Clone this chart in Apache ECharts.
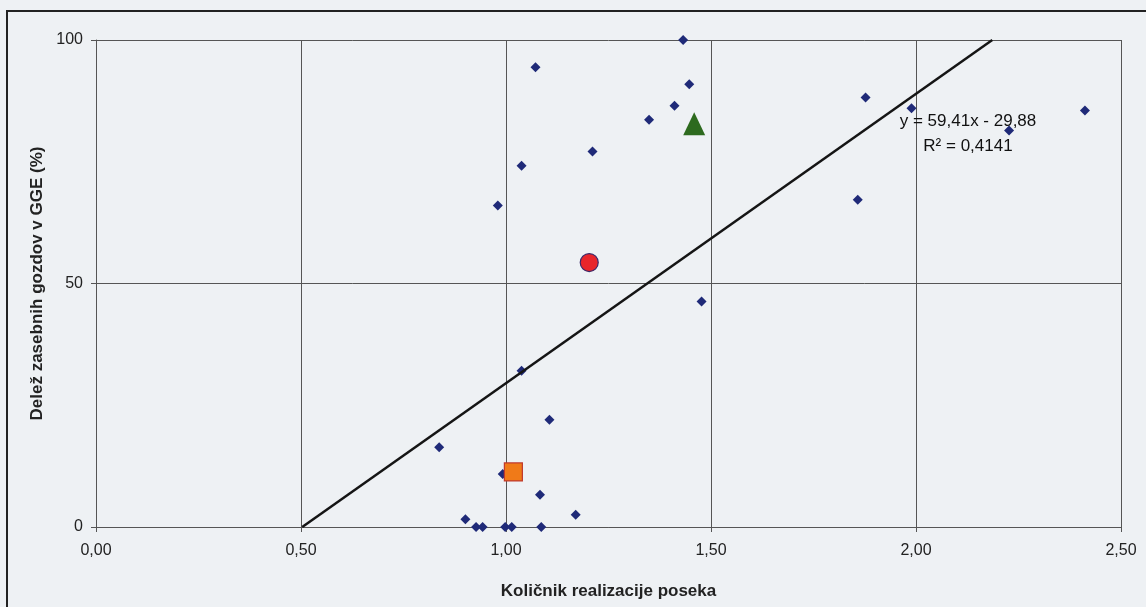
<!DOCTYPE html>
<html>
<head>
<meta charset="utf-8">
<script src="https://cdn.jsdelivr.net/npm/echarts@6/dist/echarts.min.js"></script>
<style>
  html, body { margin: 0; padding: 0; background: #eef1f4; }
  #chart { width: 1146px; height: 607px; }
</style>
</head>
<body>
<div id="chart"></div>
<script>
// ---- data ----
const diamondX = [1.432, 1.072, 1.447, 1.411, 1.349, 1.211, 1.038, 1.877, 1.989, 2.412, 2.227, 1.858, 0.980,
                  1.477, 1.038, 1.106, 0.837, 0.992, 1.083, 1.170, 0.901, 0.927, 0.943, 0.998, 1.014, 1.086];
const diamondY = [100.0, 94.4, 90.9, 86.5, 83.6, 77.1, 74.2, 88.2, 86.0, 85.5, 81.4, 67.2, 66.0,
                  46.3, 32.1, 22.0, 16.4, 10.9, 6.6, 2.5, 1.6, 0, 0, 0, 0, 0];
const redCircle = [1.203, 54.3];
const greenTriangle = [1.459, 82.8];
const orangeSquare = [1.018, 11.3];
const trendX = [0.503, 2.186];
const trendY = [0, 100];
const equationText = 'y = 59,41x - 29,88';
const r2Text = 'R² = 0,4141';
const xTitle = 'Količnik realizacije poseka';
const yTitle = 'Delež zasebnih gozdov v GGE (%)';

const diamonds = diamondX.map((x, i) => [x, diamondY[i]]);
const trend = trendX.map((x, i) => [x, trendY[i]]);

const chart = echarts.init(document.getElementById('chart'));
const font = 'Arial, "Liberation Sans", Helvetica, sans-serif';

chart.setOption({
  backgroundColor: '#eef1f4',
  animation: false,
  grid: { left: 96, right: 25, top: 40, bottom: 80, containLabel: false },
  xAxis: {
    type: 'value', min: 0, max: 2.5, interval: 0.5,
    name: xTitle, nameLocation: 'middle', nameGap: 56,
    nameTextStyle: { fontFamily: font, fontSize: 17, fontWeight: 'bold', color: '#222' },
    axisLine: { show: true, lineStyle: { color: '#555', width: 1 } },
    axisTick: { show: true, length: 5, lineStyle: { color: '#555' } },
    axisLabel: { margin: 16, fontFamily: font, fontSize: 16, color: '#222',
                 formatter: v => v.toFixed(2).replace('.', ',') },
    splitLine: { show: true, lineStyle: { color: '#555', width: 1 } }
  },
  yAxis: {
    type: 'value', min: 0, max: 100, interval: 50,
    name: yTitle, nameLocation: 'middle', nameGap: 47, nameRotate: 90,
    nameTextStyle: { fontFamily: font, fontSize: 17, fontWeight: 'bold', color: '#222' },
    axisLine: { show: true, lineStyle: { color: '#555', width: 1 } },
    axisTick: { show: true, length: 5, lineStyle: { color: '#555' } },
    axisLabel: { margin: 13, fontFamily: font, fontSize: 16, color: '#222' },
    splitLine: { show: true, lineStyle: { color: '#555', width: 1 } }
  },
  graphic: [
    { type: 'rect', z: 100, silent: true,
      shape: { x: 7, y: 11, width: 1200, height: 700 },
      style: { fill: null, stroke: '#222', lineWidth: 2 } },
    { type: 'text', z: 100, x: 968, y: 121,
      style: { text: equationText, font: '17px ' + font, fill: '#111', textAlign: 'center', textVerticalAlign: 'middle' } },
    { type: 'text', z: 100, x: 968, y: 146,
      style: { text: r2Text, font: '17px ' + font, fill: '#111', textAlign: 'center', textVerticalAlign: 'middle' } }
  ],
  series: [
    { type: 'scatter', data: diamonds, symbol: 'diamond', symbolSize: 10, z: 3,
      itemStyle: { color: '#1f2a78', opacity: 1 } },
    { type: 'line', data: trend, symbol: 'none', z: 4,
      lineStyle: { color: '#151515', width: 2.5 } },
    { type: 'scatter', data: [redCircle], symbol: 'circle', symbolSize: 18, z: 5,
      itemStyle: { color: '#e8252b', borderColor: '#3a2a6a', borderWidth: 1.2, opacity: 1 } },
    { type: 'scatter', data: [greenTriangle], symbol: 'triangle', symbolSize: [22, 23], z: 5,
      itemStyle: { color: '#2d6a1e', opacity: 1 } },
    { type: 'scatter', data: [orangeSquare], symbol: 'rect', symbolSize: 18, z: 5,
      itemStyle: { color: '#f07a18', borderColor: '#c0392b', borderWidth: 1.2, opacity: 1 } }
  ]
});
</script>
</body>
</html>
